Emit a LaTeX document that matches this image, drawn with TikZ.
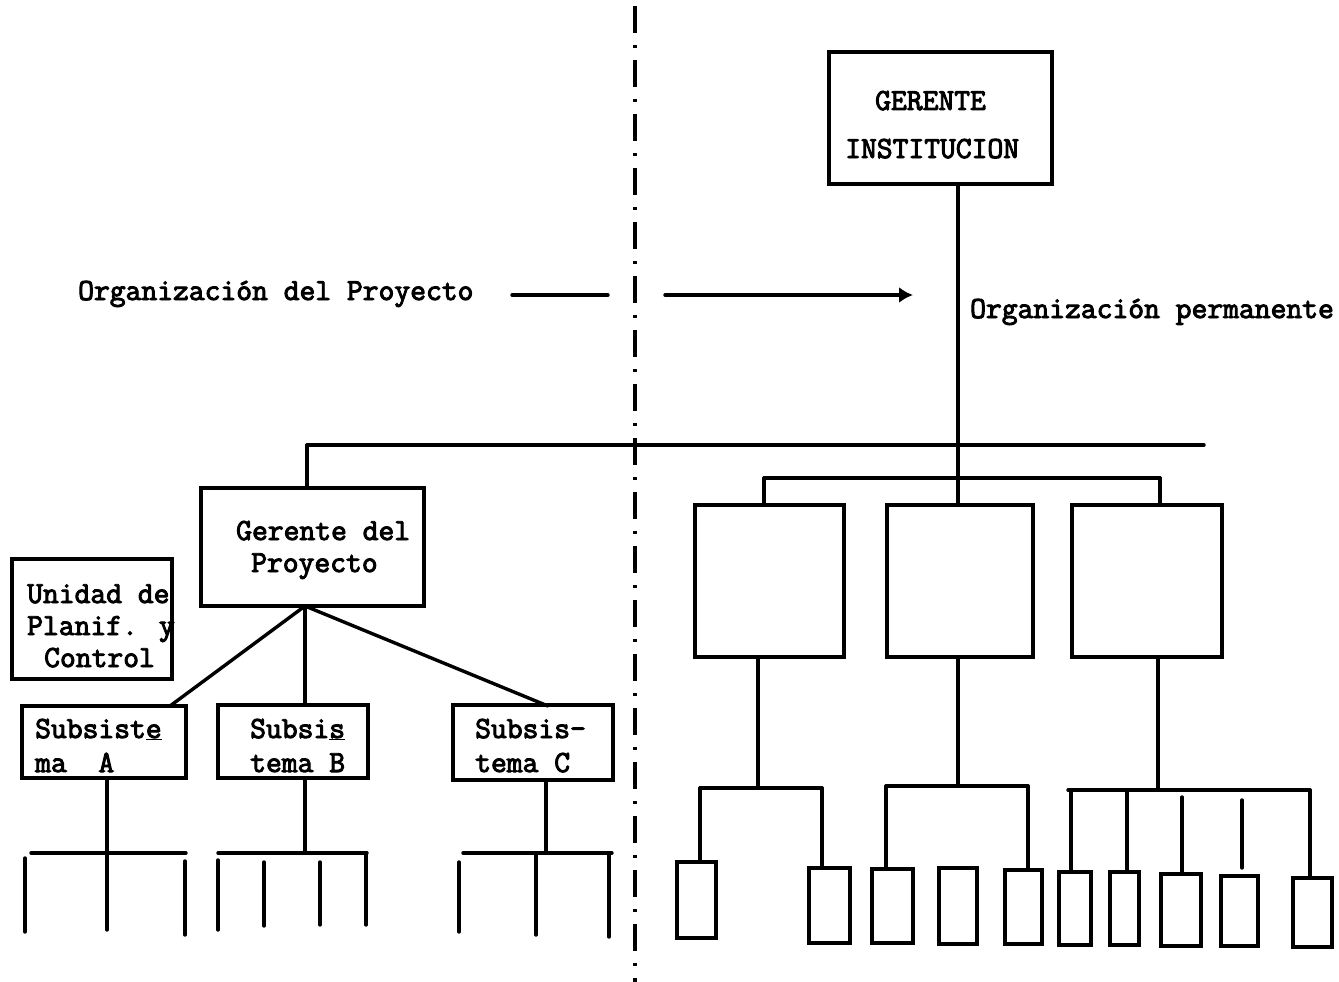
\documentclass[tikz,border=0pt]{standalone}
\usepackage{fontspec}
\newfontfamily\tw{Latin Modern Mono}[FakeBold=3.2]
\usetikzlibrary{arrows.meta}
\begin{document}
\begin{tikzpicture}[x=1pt,y=-1pt,
  ln/.style={line width=3.4pt, line cap=round},
  box/.style={draw, line width=3.4pt, inner sep=0pt},
  lbl/.style={font=\tw\fontsize{30.7}{32}\selectfont, inner sep=0pt, anchor=base west},
]
\useasboundingbox[fill=white] (0,0) rectangle (1339,982);

% ---------- dividing line between the two organisations ----------
\coordinate (divtop) at (635,6);
\coordinate (divbot) at (635,982);
\draw[line width=4pt, dash pattern=on 27pt off 12pt on 3pt off 12pt] (divtop) -- (divbot);

% ---------- permanent organisation ----------
\node[box, minimum width=223pt, minimum height=132pt] (gi) at (940.5,118) {};
\node[lbl] (giA) at (875,110) {GERENTE};
\node[lbl] (giB) at (845,158) {INSTITUCION};

\node[lbl] (perm) at (970,318) {Organización permanente};

% headings and the arrow between them
\node[lbl] (proj) at (78,300) {Organización del Proyecto};
\coordinate (arA) at (512,295);
\coordinate (arB) at (608,295);
\coordinate (arC) at (665,295);
\coordinate (arD) at (913,295);
\draw[ln] (arA) -- (arB);
\draw[ln, -{Latex[length=14pt,width=16pt]}] (arC) -- (arD);

% three departments
\node[box, minimum width=149pt, minimum height=152pt] (b1) at (769.5,581) {};
\node[box, minimum width=146pt, minimum height=152pt] (b2) at (960,581) {};
\node[box, minimum width=150pt, minimum height=152pt] (b3) at (1147,581) {};

\coordinate (stem) at (958,478);
\coordinate (t1) at (764,478);
\coordinate (t3) at (1160,478);
\draw[ln] (gi.south -| stem) -- (stem |- b2.north);
\draw[ln] (t1) -- (t3);
\draw[ln] (t1) -- (t1 |- b1.north);
\draw[ln] (t3) -- (t3 |- b3.north);

% matrix line joining the project to the permanent structure
\coordinate (mxL) at (307,445);
\coordinate (mxR) at (1204,445);
\draw[ln] (mxL) -- (mxR);

% ---------- small units ----------
\node[box, minimum width=39pt, minimum height=76pt] (s1) at (696.5,900) {};
\node[box, minimum width=41pt, minimum height=75pt] (s2) at (829.5,905.5) {};
\node[box, minimum width=41pt, minimum height=74pt] (s3) at (892.5,906) {};
\node[box, minimum width=38pt, minimum height=76pt] (s4) at (958,906) {};
\node[box, minimum width=37pt, minimum height=74pt] (s5) at (1023.5,907) {};
\node[box, minimum width=32pt, minimum height=73pt] (s6) at (1075,908.5) {};
\node[box, minimum width=29pt, minimum height=73pt] (s7) at (1124.5,908.5) {};
\node[box, minimum width=40pt, minimum height=72pt] (s8) at (1181,910) {};
\node[box, minimum width=37pt, minimum height=70pt] (s9) at (1239.5,911) {};
\node[box, minimum width=39pt, minimum height=69pt] (s10) at (1312.5,912.5) {};

% group under the first department
\coordinate (g1) at (758,788);
\coordinate (g1L) at (700,788);
\coordinate (g1R) at (822,788);
\draw[ln] (b1.south -| g1) -- (g1);
\draw[ln] (g1L) -- (g1R);
\draw[ln] (g1L) -- (g1L |- s1.north);
\draw[ln] (g1R) -- (g1R |- s2.north);

% group under the second department
\coordinate (g2) at (958,786);
\coordinate (g2L) at (886,786);
\coordinate (g2R) at (1028,786);
\draw[ln] (b2.south -| g2) -- (g2);
\draw[ln] (g2L) -- (g2R);
\draw[ln] (g2L) -- (g2L |- s3.north);
\draw[ln] (g2R) -- (g2R |- s5.north);

% group under the third department
\coordinate (g3) at (1158,790);
\coordinate (g3L) at (1068,790);
\coordinate (g3R) at (1310,790);
\draw[ln] (b3.south -| g3) -- (g3);
\draw[ln] (g3L) -- (g3R);
\draw[ln] (1071,790) -- (1071,0 |- s6.north);
\draw[ln] (1127,790) -- (1127,0 |- s7.north);
\draw[ln] (1182,797) -- (1182,0 |- s8.north);
\draw[ln] (1242,800) -- (1242,868);
\draw[ln] (g3R) -- (g3R |- s10.north);

% ---------- project organisation ----------
\node[box, minimum width=223pt, minimum height=118pt] (gp) at (312.5,547) {};
\node[lbl] (gpA) at (236,540) {Gerente del};
\node[lbl] (gpB) at (251,572) {Proyecto};
\draw[ln] (mxL) -- (mxL |- gp.north);

\node[lbl] (upA) at (27,603) {Unidad de};
\node[lbl] (upB) at (27,635) {Planif. y};
\node[lbl] (upC) at (44,667) {Control};
\node[box, minimum width=160pt, minimum height=120pt] (upc) at (92,619) {};

\node[box, minimum width=164pt, minimum height=72pt] (sa) at (104,742) {};
\node[box, minimum width=150pt, minimum height=73pt] (sb) at (293,741.5) {};
\node[box, minimum width=160pt, minimum height=75pt] (sc) at (533,742.5) {};
\node[lbl] (saA) at (35,738) {Subsist\underline{e}};
\node[lbl] (saB) at (35,772) {ma\ \ A};
\node[lbl] (sbA) at (250,738) {Subsi\underline{s}};
\node[lbl] (sbB) at (250,772) {tema B};
\node[lbl] (scA) at (475,738) {Subsis-};
\node[lbl] (scB) at (475,772) {tema C};

\coordinate (gpFoot) at (305,606);
\coordinate (saTop) at (170,706);
\coordinate (scTop) at (548,706);
\draw[ln] (gpFoot) -- (saTop);
\draw[ln] (gpFoot) -- (gpFoot |- sb.north);
\draw[ln] (gpFoot) -- (scTop);

% branches below the subsystems
\coordinate (la) at (107,853);
\coordinate (lb) at (305,853);
\coordinate (lc) at (546,853);
\draw[ln] (sa.south -| la) -- (la);
\draw[ln] (sb.south -| lb) -- (lb);
\draw[ln] (sc.south -| lc) -- (lc);
\draw[ln] (31,853) -- (186,853);
\draw[ln] (218,853) -- (367,853);
\draw[ln] (463,853) -- (612,853);
\foreach \x/\ya/\yb in {25/858/932, 107/853/930, 185/861/935,
                        218/860/930, 264/862/926, 320/862/925, 366/853/925,
                        459/862/932, 536/853/935, 609/853/937}
  \draw[ln] (\x,\ya) -- (\x,\yb);
\end{tikzpicture}
\end{document}
